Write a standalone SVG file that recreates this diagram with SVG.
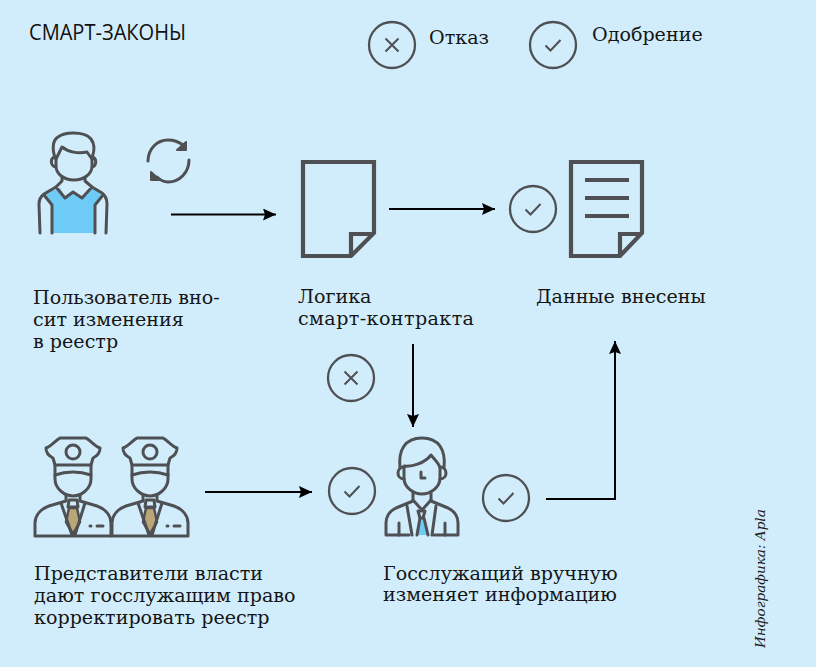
<svg xmlns="http://www.w3.org/2000/svg" width="816" height="667" viewBox="0 0 816 667">
<style>
.bg{fill:#d1edfb}
.t{font-family:"DejaVu Serif","Liberation Serif",serif;font-size:19.1px;fill:#151515}
.h{font-family:"Open Sans","Noto Sans",sans-serif;font-size:21px;fill:#111}
.i{fill:none;stroke:#4f5054;stroke-width:3;stroke-linecap:round;stroke-linejoin:round}
.d{fill:none;stroke:#4f5054;stroke-width:4.200;stroke-linejoin:miter}
.c{fill:none;stroke:#4f5054;stroke-width:2.300}
.m{fill:none;stroke:#4f5054;stroke-width:2;stroke-linejoin:miter}
.a{fill:none;stroke:#000;stroke-width:2}
</style>
<defs>
<marker id="ah" markerUnits="userSpaceOnUse" markerWidth="14" markerHeight="12" refX="13" refY="6" orient="auto"><path d="M0 0L13 6L0 12L2 6Z" fill="#000"/></marker>
<g id="ok"><circle r="23" class="c"/><path class="m" d="M-7.500 0.500L-2.500 5.500L7.500 -5"/></g>
<g id="no"><circle r="23" class="c"/><path class="m" d="M-6.500 -6.500L6.500 6.500M6.500 -6.500L-6.500 6.500"/></g>
<g id="cop">
<path class="i" d="M-18 465L-20 458C-24 456 -27 452 -27 448C-22 446 -18 441 -13 438H13C18 441 22 446 27 448C27 452 24 456 20 458L18 465Z"/>
<circle cx="0" cy="452" r="7" class="i"/>
<path class="i" d="M-18 465V475Q0 469 18 475V465"/>
<path class="i" d="M-18 475V479C-18 489 -8 496 0 496C8 496 18 489 18 479V475"/>
<path d="M-4 508L-7 522L0 534L7 522L4 508Z" fill="#bba679" stroke="#4f5054" stroke-width="2.500" stroke-linejoin="round"/>
<path class="i" d="M-4 500H4L5 507H-5Z"/>
<path class="i" d="M-7 495V501L-24 506C-32 509 -38 515 -38 523V536H38V523C38 515 32 509 24 506L7 501V495"/>
<path class="i" d="M-12 503L-1 535M12 503L2 535"/>
<path class="i" d="M17 526H18M24 526H30"/>
</g>
</defs>
<rect class="bg" width="816" height="667"/>
<g id="title"><text class="h" x="29" y="40" textLength="157" lengthAdjust="spacingAndGlyphs">СМАРТ-ЗАКОНЫ</text></g>
<g id="legend">
<use href="#no" x="392" y="45"/><text class="t" x="429" y="44">Отказ</text>
<use href="#ok" x="553" y="45"/><text class="t" x="592" y="41">Одобрение</text>
</g>
<g id="connectors">
<path class="a" marker-end="url(#ah)" d="M171 214.500H276"/>
<path class="a" marker-end="url(#ah)" d="M389 209H495"/>
<path class="a" marker-end="url(#ah)" d="M413 344V427"/>
<path class="a" marker-end="url(#ah)" d="M205 492H312"/>
<path class="a" marker-end="url(#ah)" d="M546 499H615V341"/>
</g>
<g id="citizen">
<path d="M45 193L60 188L65 198L73 192L82 198L92 187L102 193L95 205V233H52V205Z" fill="#6ecbf5"/>
<path class="i" d="M55 158C52 148 52 141 58 137C62 134 68 133 73 133C80 133 88 135 91 139C94 143 95 150 92 158"/>
<path class="i" d="M56 159L62 147C68 152 78 154 87 152L92 159"/>
<path class="i" d="M56 157V166C56 174 64 180 74 180C84 180 92 174 92 166V157M55 157C50 158 50 166 56 167M92 157C97 158 97 166 92 167"/>
<path class="i" d="M62 178V181L56 187L65 198L73 192L82 198L92 187L85 181V178"/>
<path class="i" d="M56 187L44 194C40 197 39 200 39 204L40 233M92 187L102 193C106 196 107 200 107 204L106 233M52 233V205L44 195M95 233V205L103 195"/>
</g>
<g id="cycle">
<path class="i" d="M148 161C148 149 157 140 168 140C174 140 179 142 183 145"/>
<path d="M186 142V150H177Z" fill="#4f5054" stroke="#4f5054" stroke-width="2" stroke-linejoin="round"/>
<path class="i" d="M189 160C189 172 180 182 168 182C164 182 160 180 157 177"/>
<path d="M151 172V180H160Z" fill="#4f5054" stroke="#4f5054" stroke-width="2" stroke-linejoin="round"/>
</g>
<g id="contract">
<path class="d" d="M303 162H374V233L351 256H303Z"/><path class="d" d="M373 234H351V256"/>
<text class="t"><tspan x="298" y="303">Логика</tspan><tspan x="298" y="325" textLength="176">смарт-контракта</tspan></text>
</g>
<g id="data">
<use href="#ok" x="533" y="209"/>
<path class="d" d="M571 162H642V233L620 256H571Z"/><path class="d" d="M641 234H620V256"/>
<path class="d" d="M585 180H629M585 198H629M585 216H629"/>
<text class="t" x="536" y="303">Данные внесены</text>
</g>
<g id="reject"><use href="#no" x="351" y="378"/></g>
<g id="officials">
<use href="#cop" x="73" y="0"/><use href="#cop" x="150" y="0"/>
<text class="t"><tspan x="34" y="580">Представители власти</tspan><tspan x="34" y="602">дают госслужащим право</tspan><tspan x="34" y="624">корректировать реестр</tspan></text>
</g>
<g id="approve1"><use href="#ok" x="352" y="491"/></g>
<g id="clerk">
<path class="i" d="M400 468C398 450 405 438 422 438C439 438 446 450 444 468"/>
<path class="i" d="M404 466C412 467 425 463 431 455C434 459 439 463 440 468V478C440 487 431 494 422 494C413 494 404 487 404 478Z"/>
<path class="i" d="M404 467C396 467 396 479 404 479M440 467C448 467 448 479 440 479"/>
<path class="i" d="M421 472V478H425" stroke-width="2.500"/>
<path d="M420 518L417 535H428L424 518Z" fill="#6ecbf5"/>
<path class="i" d="M418 511H425L423 518H420Z"/>
<path class="i" d="M413 493V501L396 508C390 511 386 516 386 523V535H409M434 535H458V523C458 516 454 511 448 508L431 501V493"/>
<path class="i" d="M413 500L422 510L431 500M407 506L412 535M436 506L432 535M420 518L417 535M424 518L428 535M399 523V535M445 523V535"/>
<text class="t"><tspan x="383" y="580">Госслужащий вручную</tspan><tspan x="383" y="601">изменяет информацию</tspan></text>
</g>
<g id="approve2"><use href="#ok" x="506" y="498"/></g>
<g id="citizen-label"><text class="t"><tspan x="33" y="304">Пользователь вно-</tspan><tspan x="33" y="326">сит изменения</tspan><tspan x="33" y="348">в реестр</tspan></text></g>
<g id="credit"><text transform="translate(765 648) rotate(-90)" style="font-family:'DejaVu Serif','Liberation Serif',serif;font-style:italic;font-size:13.6px;fill:#1c1c1c">Инфографика: Apla</text></g>
</svg>
